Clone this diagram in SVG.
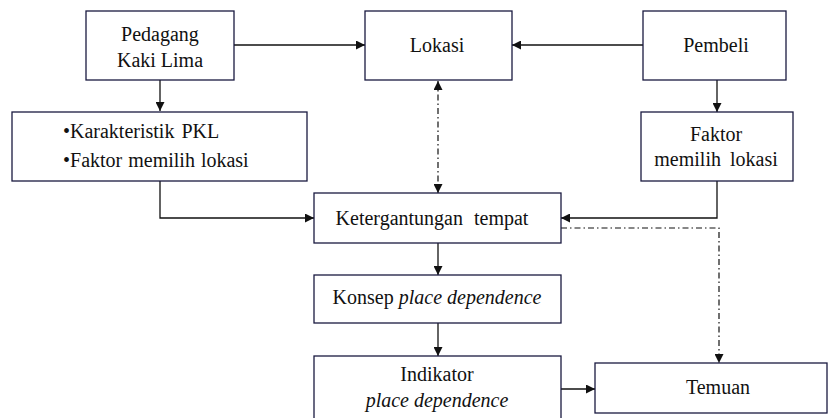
<svg xmlns="http://www.w3.org/2000/svg" width="828" height="418" viewBox="0 0 828 418">
<style>
.box{fill:#fff;stroke:#1a1a40;stroke-width:1.3}
.c{text-anchor:middle}
.ln{fill:none;stroke:#111;stroke-width:1.3}
.dd{fill:none;stroke:#111;stroke-width:1.2;stroke-dasharray:6,3,1.5,3}
</style>
<defs>
<marker id="ah" viewBox="0 0 10 10" refX="10" refY="5" markerWidth="9" markerHeight="9" markerUnits="userSpaceOnUse" orient="auto-start-reverse">
<path d="M0,0 L10,5 L0,10 z" fill="#111"/>
</marker>
</defs>
<g id="connectors">
<path class="ln" d="M234,45 H365" marker-end="url(#ah)"/>
<path class="ln" d="M643,45 H512" marker-end="url(#ah)"/>
<path class="ln" d="M160,80 V111" marker-end="url(#ah)"/>
<path class="ln" d="M717,80 V112" marker-end="url(#ah)"/>
<path class="ln" d="M160,181 V218 H314" marker-end="url(#ah)"/>
<path class="ln" d="M717,181 V218 H561" marker-end="url(#ah)"/>
<path class="dd" d="M438,81 V193" marker-start="url(#ah)" marker-end="url(#ah)"/>
<path class="dd" d="M561,228 H719 V363" marker-end="url(#ah)"/>
<path class="ln" d="M438,243 V275" marker-end="url(#ah)"/>
<path class="ln" d="M438,323 V356" marker-end="url(#ah)"/>
<path class="ln" d="M561,389 H595" marker-end="url(#ah)"/>
</g>
<g font-family="Liberation Serif, Tinos, Times New Roman, Times, serif" font-size="20" fill="#111">
<g id="pkl">
<rect class="box" x="86" y="11" width="148" height="69"/>
<text class="c" x="160" y="41">Pedagang</text>
<text class="c" x="160" y="67">Kaki Lima</text>
</g>
<g id="lokasi">
<rect class="box" x="365" y="11" width="147" height="69"/>
<text class="c" x="437" y="52">Lokasi</text>
</g>
<g id="pembeli">
<rect class="box" x="643" y="11" width="143" height="69"/>
<text class="c" x="716" y="52">Pembeli</text>
</g>
<g id="karakteristik">
<rect class="box" x="12" y="112" width="295" height="69"/>
<text x="63" y="138" word-spacing="2">•Karakteristik PKL</text>
<text x="63" y="167" word-spacing="1">•Faktor memilih lokasi</text>
</g>
<g id="faktor">
<rect class="box" x="641" y="112" width="152" height="69"/>
<text class="c" x="716" y="141">Faktor</text>
<text class="c" x="716" y="166" word-spacing="4">memilih lokasi</text>
</g>
<g id="ketergantungan">
<rect class="box" x="314" y="193" width="247" height="50"/>
<text class="c" x="432" y="225" word-spacing="6">Ketergantungan tempat</text>
</g>
<g id="konsep">
<rect class="box" x="314" y="275" width="247" height="48"/>
<text class="c" x="437" y="304">Konsep <tspan font-style="italic">place dependence</tspan></text>
</g>
<g id="indikator">
<rect class="box" x="314" y="356" width="247" height="70"/>
<text class="c" x="437" y="381">Indikator</text>
<text class="c" x="437" y="407" font-style="italic">place dependence</text>
</g>
<g id="temuan">
<rect class="box" x="595" y="363" width="232" height="50"/>
<text class="c" x="718" y="394">Temuan</text>
</g>
</g>
</svg>
